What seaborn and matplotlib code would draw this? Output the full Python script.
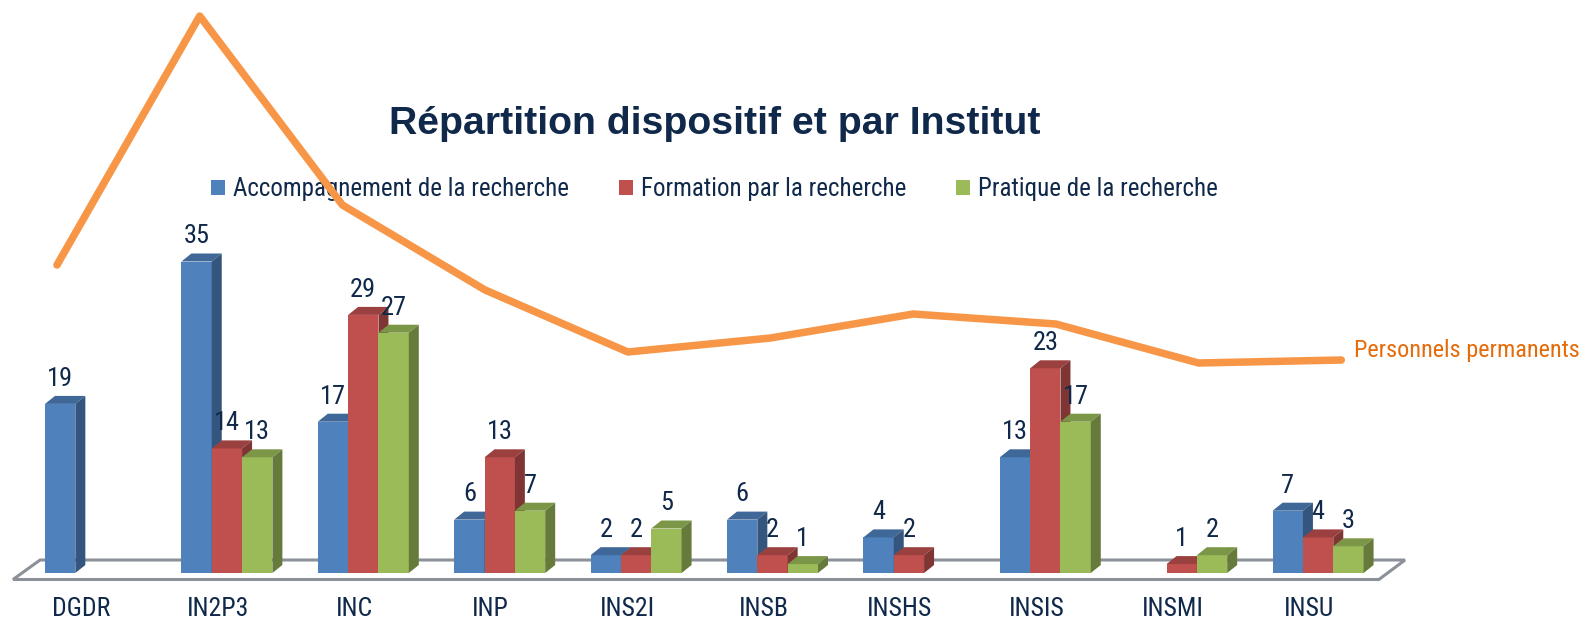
import numpy as np
import pandas as pd
import seaborn as sns
import matplotlib.pyplot as plt
import matplotlib.colors as mcolors
from matplotlib.patches import Polygon, Patch
from matplotlib.transforms import ScaledTranslation

# Données
instituts = ['DGDR', 'IN2P3', 'INC', 'INP', 'INS2I', 'INSB', 'INSHS', 'INSIS', 'INSMI', 'INSU']
accompagnement = [19, 35, 17, 6, 2, 6, 4, 13, 0, 7]
formation = [0, 14, 29, 13, 2, 2, 2, 23, 1, 4]
pratique = [0, 13, 27, 7, 5, 1, 0, 17, 2, 3]
dispositifs = ['Accompagnement de la recherche', 'Formation par la recherche',
               'Pratique de la recherche']
# Courbe "Personnels permanents" : pas d'axe sur l'original, hauteurs
permanents = [357, 606, 417, 332, 270, 284, 308, 298, 259, 262]

couleurs = ['#4f81bd', '#c0504d', '#9bbb59']
bleu_nuit = '#10294a'
orange = '#f79646'

df = pd.DataFrame({'institut': instituts * 3,
                   'dispositif': np.repeat(dispositifs, len(instituts)),
                   'nombre': accompagnement + formation + pratique})
n = len(instituts)

sns.set_theme(style='white')
plt.rcParams['font.family'] = ['Liberation Sans Narrow', 'Arial Narrow', 'Roboto Condensed',
                               'Archivo Narrow', 'Liberation Sans', 'DejaVu Sans']

fig = plt.figure(figsize=(15.89, 6.22), dpi=100)
ax = fig.add_axes([0, 39 / 622, 1, 583 / 622])

sns.barplot(data=df, x='institut', y='nombre', hue='dispositif', palette=couleurs,
            saturation=1, width=0.667, linewidth=0, legend=False, ax=ax)

# échelle en pixels pour caler l'image
px_x = 136.4
px_y = 8.9
ax.set_xlim(-90.5 / px_x, -90.5 / px_x + 1589 / px_x)
ax.set_ylim(-10 / px_y, -10 / px_y + 583 / px_y)
dx = 10 / px_x
dy = 8 / px_y


def assombrir(c, f):
    r, g, b = mcolors.to_rgb(c)
    return (r * f, g * f, b * f)


# effet 3D : faces du dessus et de côté
for i, cont in enumerate(ax.containers):
    dessus = assombrir(couleurs[i], 0.8)
    cote = assombrir(couleurs[i], 0.66)
    for bar in cont:
        h = bar.get_height()
        bar.set_zorder(3 + i)
        if h <= 0:
            continue
        x0 = bar.get_x()
        w = bar.get_width()
        ax.add_patch(Polygon([(x0, h), (x0 + w, h), (x0 + w + dx, h + dy), (x0 + dx, h + dy)],
                             closed=True, fc=dessus, ec='none', zorder=3 + i))
        ax.add_patch(Polygon([(x0 + w, 0), (x0 + w + dx, dy), (x0 + w + dx, h + dy), (x0 + w, h)],
                             closed=True, fc=cote, ec='none', zorder=3 + i))
    etiquettes = [str(int(b.get_height())) if b.get_height() > 0 else '' for b in cont]
    ax.bar_label(cont, labels=etiquettes, padding=9.5, fontsize=19, color=bleu_nuit, zorder=10)

# plancher
sol = Polygon([(-0.568, -0.73), (n - 1 + 0.446, -0.73), (n - 1 + 0.637, 1.46), (-0.370, 1.46)],
              closed=True, fc='white', ec='#8c9199', lw=2.2, zorder=1)
ax.add_patch(sol)

ax.set_xticks(range(n), instituts)
ax.tick_params(axis='x', length=0, pad=10, labelsize=18.5, labelcolor=bleu_nuit)
decal = ScaledTranslation(-9 / 100, 0, fig.dpi_scale_trans)
for lab in ax.get_xticklabels():
    lab.set_transform(lab.get_transform() + decal)
ax.set_yticks([])
ax.set_xlabel('')
ax.set_ylabel('')
for s in ax.spines.values():
    s.set_visible(False)

poignees = [Patch(fc=c, ec='none') for c in couleurs]
ax.legend(poignees, dispositifs, loc='center', bbox_to_anchor=(714.5 / 1589, 1 - 189 / 622),
          bbox_transform=fig.transFigure, ncol=3, frameon=False, fontsize=18,
          handlelength=0.56, handleheight=0.56, handletextpad=0.32, columnspacing=2.0,
          labelcolor=bleu_nuit)

# courbe des personnels permanents, par-dessus le reste
ax2 = fig.add_axes([0, 0, 1, 1], zorder=5)
ax2.patch.set_alpha(0)
sns.lineplot(x=np.arange(n), y=permanents, color=orange, lw=5.4, ax=ax2,
             solid_capstyle='round', solid_joinstyle='round')
ax2.set_xlim(-57 / 142.7, -57 / 142.7 + 1589 / 142.7)
ax2.set_ylim(0, 622)
ax2.axis('off')
ax2.annotate('Personnels permanents', xy=(n - 1, permanents[-1]), xytext=(13, 10),
             textcoords='offset pixels', color='#e46c0a', fontsize=17.5, va='center', ha='left')

fig.text(715 / 1589, 1 - 134 / 622, 'Répartition dispositif et par Institut', ha='center',
         va='baseline', fontsize=28.3, fontweight='bold', color=bleu_nuit,
         family=['Liberation Sans', 'DejaVu Sans'])

fig.savefig('out.png', dpi=100)
